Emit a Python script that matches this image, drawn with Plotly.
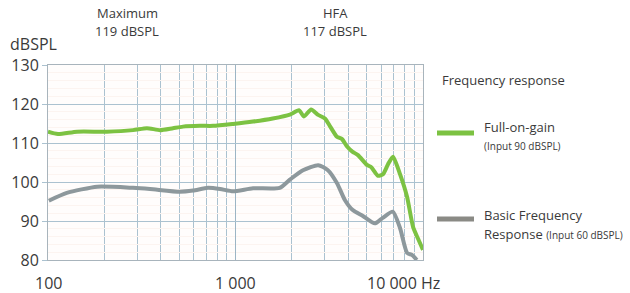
import math
import plotly.graph_objects as go

# ---- data ----
full_freq = [100, 113, 143, 206, 284, 337, 396, 464, 524, 646, 759, 970, 1240, 1580, 1950,
             2180, 2320, 2530, 2760, 3000, 3200, 3475, 3700, 3936, 4200, 4500, 5020, 5300,
             5755, 6120, 6500, 6920, 7540, 8220, 8850, 9400, 10000]
full_db = [112.9, 112.3, 112.9, 112.9, 113.3, 113.8, 113.3, 113.8, 114.2, 114.4, 114.4, 114.9,
           115.5, 116.3, 117.3, 118.4, 116.8, 118.6, 117.2, 116.3, 114.2, 111.6, 111.0, 109.1,
           107.8, 106.9, 104.4, 103.8, 101.6, 102.0, 104.5, 106.5, 102.0, 96.2, 88.5, 85.5, 82.6]

basic_freq = [101, 126, 183, 284, 350, 505, 594, 713, 828, 970, 1240, 1720, 1950, 2290, 2760,
              3100, 3480, 3830, 4220, 4780, 5530, 6100, 6900, 7540, 8230, 8730, 9270]
basic_db = [95.2, 97.2, 98.8, 98.5, 98.2, 97.5, 97.8, 98.5, 98.2, 97.6, 98.4, 98.5, 100.6,
            103.0, 104.3, 103.1, 99.7, 95.4, 92.8, 91.3, 89.4, 90.8, 92.4, 88.2, 81.8, 81.3, 80.0]

x_tick_vals = [100, 1000, 10000]
x_tick_labels = ["100", "1 000", "10 000"]
x_minor_vals = [200, 300, 400, 500, 600, 700, 800, 900,
                2000, 3000, 4000, 5000, 6000, 7000, 8000, 9000]
y_tick_vals = [80, 90, 100, 110, 120, 130]

series_names = ["Full-on-gain", "Basic Frequency"]
series_notes = ["(Input 90 dBSPL)",
                "Response <span style='font-size:10px'>(Input 60 dBSPL)</span>"]

GREEN = "#7cc242"
GRAY = "#8d989c"
GRID = "#abc2d0"
FONT = "Open Sans"
TXT = "#3a3a3a"

fig = go.Figure()
fig.add_trace(go.Scatter(x=basic_freq, y=basic_db, mode="lines",
                         line=dict(color=GRAY, width=4, shape="spline", smoothing=0.6),
                         showlegend=False, hoverinfo="skip"))
fig.add_trace(go.Scatter(x=full_freq, y=full_db, mode="lines",
                         line=dict(color=GREEN, width=4, shape="spline", smoothing=0.6),
                         showlegend=False, hoverinfo="skip"))

fig.update_layout(
    width=630, height=293,
    margin=dict(l=48, r=207, t=65, b=33),
    paper_bgcolor="white", plot_bgcolor="#fffdfc",
    font=dict(family=FONT, color=TXT),
    xaxis=dict(type="log", range=[2, 4], tickvals=x_tick_vals, ticktext=["", "", ""],
               showgrid=True, gridcolor="#9cb5c5", gridwidth=1.2,
               minor=dict(tickvals=x_minor_vals, showgrid=True, gridcolor=GRID, gridwidth=1),
               showline=True, linecolor="#a8b4bc", linewidth=1, mirror=True,
               zeroline=False, ticks=""),
    yaxis=dict(range=[80, 130], tickvals=y_tick_vals,
               showgrid=True, gridcolor=GRID, gridwidth=1.2,
               minor=dict(dtick=2, showgrid=True, gridcolor="#fcf4f0", gridwidth=1),
               showline=True, linecolor="#a8b4bc", linewidth=1, mirror=True,
               ticks="outside", ticklen=5, tickcolor=GRID,
               tickfont=dict(size=16, color=TXT), zeroline=False),
)

# x tick labels
for v, lab in zip(x_tick_vals, x_tick_labels):
    shift = -31 if v == 10000 else 0
    fig.add_annotation(x=math.log10(v), y=0, xref="x", yref="paper", yanchor="top",
                       xanchor="center", xshift=shift, yshift=-10, text=lab, showarrow=False,
                       font=dict(size=16, color=TXT))
fig.add_annotation(x=4, y=0, xref="x", yref="paper", yanchor="top", xanchor="left",
                   xshift=-4, yshift=-10, text="Hz", showarrow=False,
                   font=dict(size=16, color=TXT))

PL, PR, PT, PB = 48, 423, 65, 260
def ptext(xpx, ypx, text, size, anchor="center"):
    fig.add_annotation(x=(xpx - PL) / (PR - PL), y=(PB - ypx) / (PB - PT),
                       xref="paper", yref="paper", text=text, showarrow=False,
                       xanchor=anchor, yanchor="middle", font=dict(size=size, color=TXT))

ptext(8, 44, "dBSPL", 16, "left")
ptext(127, 13, "Maximum", 13)
ptext(127, 31, "119 dBSPL", 13)
ptext(335, 13, "HFA", 13)
ptext(335, 31, "117 dBSPL", 13)
ptext(440, 80, "Frequency response", 13, "left")
ptext(482, 127, series_names[0], 13, "left")
ptext(482, 146, series_notes[0], 10, "left")
ptext(482, 215, series_names[1], 13, "left")
ptext(482, 234, series_notes[1], 13, "left")

# legend swatches
for ypx, col in [(133, GREEN), (219, "#8a8a85")]:
    fig.add_shape(type="line", xref="paper", yref="paper",
                  x0=(437 - PL) / (PR - PL), x1=(474 - PL) / (PR - PL),
                  y0=(PB - ypx) / (PB - PT), y1=(PB - ypx) / (PB - PT),
                  line=dict(color=col, width=5))

fig.write_html("out.html", config={"displayModeBar": False},
               post_script="document.body.style.margin='0';document.body.style.overflow='hidden';")
